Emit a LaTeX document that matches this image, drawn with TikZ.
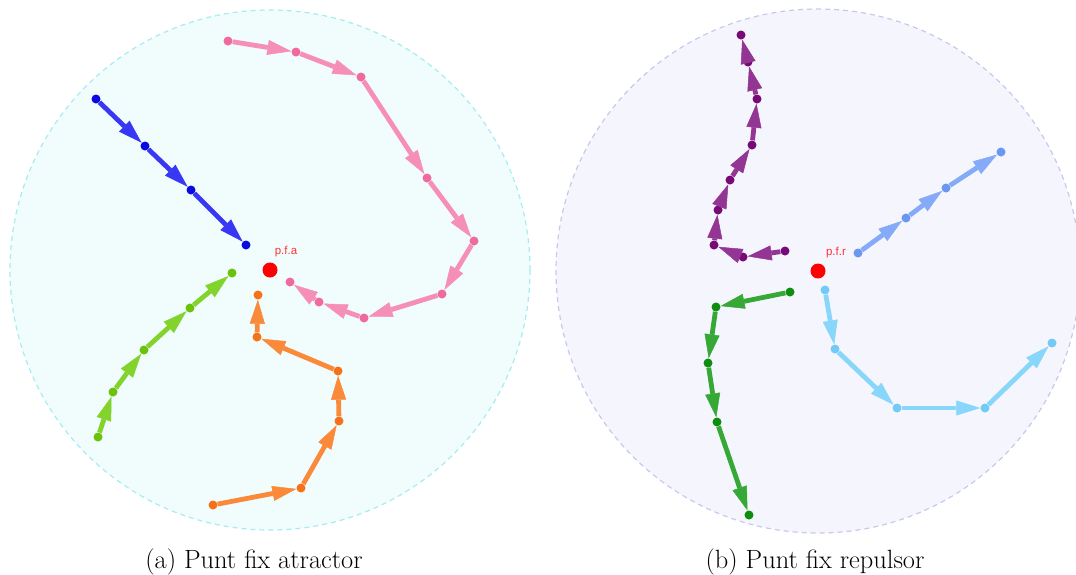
\documentclass[tikz,border=0pt]{standalone}
\usepackage{fontspec}
\newfontfamily\labelfont{Liberation Sans}
\usetikzlibrary{arrows.meta}

% trajectory colours (segment / point)
\definecolor{blueL}{HTML}{3838F4}\definecolor{blueD}{HTML}{0A0AE0}
\definecolor{pinkL}{HTML}{F68FB8}\definecolor{pinkD}{HTML}{EF6A9E}
\definecolor{lgrL}{HTML}{82D42C}\definecolor{lgrD}{HTML}{6AC20A}
\definecolor{oraL}{HTML}{FA8A3A}\definecolor{oraD}{HTML}{F57218}
\definecolor{purL}{HTML}{933593}\definecolor{purD}{HTML}{780A78}
\definecolor{cfL}{HTML}{84AAF8}\definecolor{cfD}{HTML}{6A98F0}
\definecolor{dgrL}{HTML}{36A836}\definecolor{dgrD}{HTML}{0E8E0E}
\definecolor{skyL}{HTML}{88D6FA}\definecolor{skyD}{HTML}{72CAF5}
% basins
\definecolor{attrFill}{HTML}{F1FCFD}\definecolor{attrEdge}{HTML}{A6EDF0}
\definecolor{repFill}{HTML}{F5F6FD}\definecolor{repEdge}{HTML}{C8C8EE}
\definecolor{fixred}{HTML}{FF0000}

\tikzset{
  pt/.style={circle,fill=#1,inner sep=0pt,minimum size=9pt},
  seg/.style={draw=#1,line width=4.8pt,
    -{Triangle[length=24pt 0 0,width=15pt 0 0,line width=0.5pt]}},
  fixpt/.style={circle,fill=fixred,inner sep=0pt,minimum size=15pt},
  fixlbl/.style={text=fixred!80!white,font=\labelfont\fontsize{11.5}{12}\selectfont,inner sep=0pt},
  basin/.style={line width=1.2pt,dash pattern=on 5pt off 4pt},
  caption/.style={font=\fontsize{26.4}{30}\selectfont,inner sep=0pt}
}

\begin{document}
\begin{tikzpicture}[x=1pt,y=-1pt]
\useasboundingbox (0,0) rectangle (1076,574);

% ---------- (a) attracting fixed point ----------
\draw[basin,draw=attrEdge,fill=attrFill] (270,270) circle (260);

% blue
\node[pt=blueD] (b1) at (96,99) {};
\node[pt=blueD] (b2) at (145,146) {};
\node[pt=blueD] (b3) at (191,190) {};
\node[pt=blueD] (b4) at (246,245) {};
\draw[seg=blueL] (b1)--(b2); \draw[seg=blueL] (b2)--(b3); \draw[seg=blueL] (b3)--(b4);

% pink
\node[pt=pinkD] (p1) at (228,41) {};
\node[pt=pinkD] (p2) at (296,52) {};
\node[pt=pinkD] (p3) at (361,77) {};
\node[pt=pinkD] (p4) at (427,178) {};
\node[pt=pinkD] (p5) at (474,241) {};
\node[pt=pinkD] (p6) at (442,294) {};
\node[pt=pinkD] (p7) at (364,318) {};
\node[pt=pinkD] (p8) at (319,302) {};
\node[pt=pinkD] (p9) at (290,282) {};
\foreach \a/\b in {p1/p2,p2/p3,p3/p4,p4/p5,p5/p6,p6/p7,p7/p8,p8/p9}
  \draw[seg=pinkL] (\a)--(\b);

% light green
\node[pt=lgrD] (g1) at (98,437) {};
\node[pt=lgrD] (g2) at (113,392) {};
\node[pt=lgrD] (g3) at (144,350) {};
\node[pt=lgrD] (g4) at (190,308) {};
\node[pt=lgrD] (g5) at (232,273) {};
\foreach \a/\b in {g1/g2,g2/g3,g3/g4,g4/g5}
  \draw[seg=lgrL] (\a)--(\b);

% orange
\node[pt=oraD] (o1) at (213,505) {};
\node[pt=oraD] (o2) at (301,488) {};
\node[pt=oraD] (o3) at (339,421) {};
\node[pt=oraD] (o4) at (338,371) {};
\node[pt=oraD] (o5) at (257,337) {};
\node[pt=oraD] (o6) at (258,295) {};
\foreach \a/\b in {o1/o2,o2/o3,o3/o4,o4/o5,o5/o6}
  \draw[seg=oraL] (\a)--(\b);

\node[fixpt] (fa) at (270,270) {};
\node[fixlbl] (fal) at (286,252) {p.f.a};

% ---------- (b) repelling fixed point ----------
\draw[basin,draw=repEdge,fill=repFill] (818,271) circle (262);

% purple
\node[pt=purD] (u1) at (785,251) {};
\node[pt=purD] (u2) at (743,257) {};
\node[pt=purD] (u3) at (714,245) {};
\node[pt=purD] (u4) at (718,210) {};
\node[pt=purD] (u5) at (730,180) {};
\node[pt=purD] (u6) at (752,145) {};
\node[pt=purD] (u7) at (757,99) {};
\node[pt=purD] (u8) at (748,62) {};
\node[pt=purD] (u9) at (741,35) {};
\foreach \a/\b in {u1/u2,u2/u3,u3/u4,u4/u5,u5/u6,u6/u7,u7/u8,u8/u9}
  \draw[seg=purL] (\a)--(\b);

% cornflower
\node[pt=cfD] (c1) at (858,253) {};
\node[pt=cfD] (c2) at (906,218) {};
\node[pt=cfD] (c3) at (946,188) {};
\node[pt=cfD] (c4) at (1001,152) {};
\foreach \a/\b in {c1/c2,c2/c3,c3/c4}
  \draw[seg=cfL] (\a)--(\b);

% dark green
\node[pt=dgrD] (d1) at (790,292) {};
\node[pt=dgrD] (d2) at (716,307) {};
\node[pt=dgrD] (d3) at (708,363) {};
\node[pt=dgrD] (d4) at (717,422) {};
\node[pt=dgrD] (d5) at (749,515) {};
\foreach \a/\b in {d1/d2,d2/d3,d3/d4,d4/d5}
  \draw[seg=dgrL] (\a)--(\b);

% sky blue
\node[pt=skyD] (s1) at (825,290) {};
\node[pt=skyD] (s2) at (835,349) {};
\node[pt=skyD] (s3) at (897,408) {};
\node[pt=skyD] (s4) at (985,408) {};
\node[pt=skyD] (s5) at (1052,343) {};
\foreach \a/\b in {s1/s2,s2/s3,s3/s4,s4/s5}
  \draw[seg=skyL] (\a)--(\b);

\node[fixpt] (fr) at (818,271) {};
\node[fixlbl] (frl) at (836,253) {p.f.r};

% ---------- captions ----------
\node[caption] (capa) at (254,562) {(a) Punt fix atractor};
\node[caption] (capb) at (815,562) {(b) Punt fix repulsor};
\end{tikzpicture}
\end{document}
